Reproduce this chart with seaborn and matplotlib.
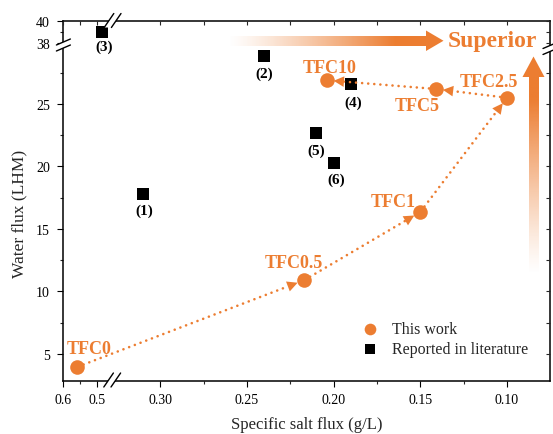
import numpy as np
import pandas as pd
import matplotlib
matplotlib.use("Agg")
import matplotlib.pyplot as plt
from matplotlib.patches import Polygon
import seaborn as sns

# ---------------- data ----------------
tfc_labels = ["TFC0", "TFC0.5", "TFC1", "TFC2.5", "TFC5", "TFC10"]
tfc_salt = [0.559, 0.217, 0.150, 0.100, 0.141, 0.204]
tfc_water = [3.96, 10.9, 16.36, 25.5, 26.2, 26.9]

lit_labels = ["(1)", "(2)", "(3)", "(4)", "(5)", "(6)"]
lit_salt = [0.310, 0.240, 0.485, 0.190, 0.210, 0.200]
lit_water = [17.8, 28.84, 39.0, 26.6, 22.66, 20.26]

x_major = [0.6, 0.5, 0.30, 0.25, 0.20, 0.15, 0.10]
x_major_labels = ["0.6", "0.5", "0.30", "0.25", "0.20", "0.15", "0.10"]
x_minor = [0.55, 0.275, 0.225, 0.175, 0.125]
y_major = [5, 10, 15, 20, 25, 38, 40]
y_major_labels = ["5", "10", "15", "20", "25", "38", "40"]
y_minor = [7.5, 12.5, 17.5, 22.5, 27.5, 39]

ORANGE = "#EC7D31"

sns.set_style("ticks")
plt.rcParams["font.family"] = ["Liberation Serif", "DejaVu Serif"]

# ---------------- broken-axis scales ----------------
XB_LO, XB_HI = 0.3277, 0.454      # gap in x
X_MIN, X_MAX = 0.0752, 0.6
KX_R, KX_L = 1734.0, 334.0
YB_LO, YB_HI = 29.72, 37.8        # gap in y
Y_MIN, Y_MAX = 2.84, 40.0
KY_L, KY_U = 12.5, 10.9
EPS = 1e-3


def fx(x):
    x = np.asarray(x, float)
    a = (x - XB_LO) * KX_R
    b = EPS + (x - XB_HI) * KX_L
    g = EPS * (x - XB_LO) / (XB_HI - XB_LO)
    return np.where(x <= XB_LO, a, np.where(x >= XB_HI, b, g))


def fx_inv(u):
    u = np.asarray(u, float)
    a = XB_LO + u / KX_R
    b = XB_HI + (u - EPS) / KX_L
    g = XB_LO + u / EPS * (XB_HI - XB_LO)
    return np.where(u <= 0, a, np.where(u >= EPS, b, g))


def fy(y):
    y = np.asarray(y, float)
    a = (y - YB_LO) * KY_L
    b = EPS + (y - YB_HI) * KY_U
    g = EPS * (y - YB_LO) / (YB_HI - YB_LO)
    return np.where(y <= YB_LO, a, np.where(y >= YB_HI, b, g))


def fy_inv(u):
    u = np.asarray(u, float)
    a = YB_LO + u / KY_L
    b = YB_HI + (u - EPS) / KY_U
    g = YB_LO + u / EPS * (YB_HI - YB_LO)
    return np.where(u <= 0, a, np.where(u >= EPS, b, g))


W, H = 553, 435
fig = plt.figure(figsize=(W / 100, H / 100), dpi=100)
L_PX, R_PX, T_PX, B_PX = 63.4, 550.0, 22.0, 382.0
ax = fig.add_axes([L_PX / W, 1 - B_PX / H, (R_PX - L_PX) / W, (B_PX - T_PX) / H])


def setup_scales(a):
    a.set_xscale("function", functions=(fx, fx_inv))
    a.set_yscale("function", functions=(fy, fy_inv))
    a.set_xlim(X_MAX, X_MIN)
    a.set_ylim(Y_MIN, Y_MAX)


setup_scales(ax)

df_t = pd.DataFrame({"salt": tfc_salt, "water": tfc_water, "group": "This work"})
df_l = pd.DataFrame({"salt": lit_salt, "water": lit_water, "group": "Reported in literature"})

sns.scatterplot(data=df_l, x="salt", y="water", marker="s", s=70, color="black",
                linewidth=0, ax=ax, label="Reported in literature", zorder=3)
sns.scatterplot(data=df_t, x="salt", y="water", marker="o", s=110, color=ORANGE,
                linewidth=0, ax=ax, label="This work", zorder=6)
setup_scales(ax)

# ---------------- arrows between TFC points ----------------
for i in range(len(tfc_salt) - 1):
    src = (tfc_salt[i], tfc_water[i])
    dst = (tfc_salt[i + 1], tfc_water[i + 1])
    ax.annotate("", xy=dst, xytext=src,
                arrowprops=dict(arrowstyle="-", linestyle=(0, (0.01, 2.3)), lw=1.9,
                                capstyle="round", color=ORANGE, shrinkA=5, shrinkB=12),
                zorder=4)
    ps = ax.transData.transform(src)
    pd_ = ax.transData.transform(dst)
    v = ps - pd_
    v = v / np.hypot(*v)
    ax.annotate("", xy=dst, xytext=(v[0] * 14, v[1] * 14), textcoords="offset points",
                arrowprops=dict(arrowstyle="-|>,head_length=0.75,head_width=0.38",
                                lw=0, color=ORANGE, shrinkA=0, shrinkB=5,
                                mutation_scale=10),
                zorder=4)

# ---------------- point labels ----------------
lit_off = [(0.7, -11.5), (0, -12.2), (1.4, -10), (1.4, -13), (0, -12.2), (2.2, -11.5)]
for lab, xs, yw, off in zip(lit_labels, lit_salt, lit_water, lit_off):
    ax.annotate(lab, xy=(xs, yw), xytext=off, textcoords="offset points",
                ha="center", va="center", fontsize=11, fontweight="bold",
                color="black", zorder=7)

tfc_off = [(8.6, 13), (-7.2, 13), (-19.4, 7.2), (-13, 11.5), (-13.7, -12), (1.8, 9.4)]
for lab, xs, yw, off in zip(tfc_labels, tfc_salt, tfc_water, tfc_off):
    ax.annotate(lab, xy=(xs, yw), xytext=off, textcoords="offset points",
                ha="center", va="center", fontsize=13, fontweight="bold",
                color=ORANGE, zorder=7)

# ---------------- ticks / labels ----------------
ax.set_xticks(x_major)
ax.set_xticklabels(x_major_labels)
ax.set_xticks(x_minor, minor=True)
ax.set_yticks(y_major)
ax.set_yticklabels(y_major_labels)
ax.set_yticks(y_minor, minor=True)
ax.tick_params(axis="both", which="major", direction="out", length=4.3, width=0.8,
               labelsize=10, color="black", labelcolor="black")
ax.tick_params(axis="both", which="minor", direction="out", length=2.3, width=0.8)
ax.tick_params(axis="x", pad=4.5)
ax.tick_params(axis="y", pad=5.5)
ax.tick_params(top=False, right=False)
for s in ax.spines.values():
    s.set_linewidth(1.1)
    s.set_color("black")
    s.set_visible(True)

ax.set_xlabel("Specific salt flux (g/L)", fontsize=12)
ax.set_ylabel("Water flux (LHM)", fontsize=12.5)
ax.xaxis.set_label_coords(0.5, -0.098)
ax.yaxis.set_label_coords(-0.073, 0.4667)

h, l = ax.get_legend_handles_labels()
order = [l.index("This work"), l.index("Reported in literature")]
leg = ax.legend([h[k] for k in order], [l[k] for k in order],
                loc="upper left", bbox_to_anchor=(364 / W, 1 - 322 / H),
                bbox_transform=fig.transFigure, frameon=False, fontsize=11.4,
                handlelength=0.8, handletextpad=0.95, labelspacing=0.28,
                borderpad=0, borderaxespad=0, markerscale=0.8)

# mirrored inward ticks on top / right
axt = ax.twiny()
axt.set_xscale("function", functions=(fx, fx_inv))
axt.set_xlim(X_MAX, X_MIN)
axt.set_xticks(x_major)
axt.set_xticks(x_minor, minor=True)
axt.tick_params(axis="x", which="both", direction="in", length=3.2, width=0.8,
                labeltop=False, labelbottom=False, top=True, bottom=False)
axr = ax.twinx()
axr.set_yscale("function", functions=(fy, fy_inv))
axr.set_ylim(Y_MIN, Y_MAX)
axr.set_yticks(y_major)
axr.set_yticks(y_minor, minor=True)
axr.tick_params(axis="y", which="both", direction="in", length=3.2, width=0.8,
                labelright=False, labelleft=False, right=True, left=False)
for a in (axt, axr):
    for s in a.spines.values():
        s.set_visible(False)

# ---------------- overlay: breaks, gradient arrows, "Superior" ----------------
ov = fig.add_axes([0, 0, 1, 1], zorder=20)
ov.set_xlim(0, W)
ov.set_ylim(H, 0)
ov.axis("off")


def brk(cx, cy, hx, hy, ox, oy):
    p1a = (cx - ox - hx, cy - oy - hy); p1b = (cx - ox + hx, cy - oy + hy)
    p2a = (cx + ox - hx, cy + oy - hy); p2b = (cx + ox + hx, cy + oy + hy)
    ov.add_patch(Polygon([p1a, p1b, p2b, p2a], closed=True, facecolor="white",
                         edgecolor="none", zorder=1))
    ov.plot([p1a[0], p1b[0]], [p1a[1], p1b[1]], color="black", lw=1.0, zorder=2)
    ov.plot([p2a[0], p2b[0]], [p2a[1], p2b[1]], color="black", lw=1.0, zorder=2)


brk(112.2, B_PX - 1, 4.8, -7.0, 3.6, 0)     # bottom
brk(112.6, T_PX - 0.5, 4.8, -7.0, 3.6, 0)   # top
brk(L_PX, 46.0, 7.0, -3.0, 0, 3.0)          # left
brk(R_PX, 49.5, 7.0, -3.0, 0, 3.0)          # right

rgb = np.array(matplotlib.colors.to_rgb(ORANGE))
# horizontal arrow
n = 300
xs_ = np.linspace(228, 428, n)
alpha_h = np.clip((xs_ - 228) / (395 - 228), 0, 1) ** 1.2
img_h = np.zeros((1, n, 4)); img_h[..., :3] = rgb; img_h[0, :, 3] = alpha_h
ov.imshow(img_h, extent=(228, 428, 46.5, 37.0), aspect="auto",
          interpolation="bilinear", zorder=3)
ov.add_patch(Polygon([(426, 31.5), (443.5, 41.75), (426, 52)], closed=True,
                     facecolor=ORANGE, edgecolor="none", zorder=3))
# vertical arrow
ys_ = np.linspace(77, 275, n)
alpha_v = np.clip((275 - ys_) / (275 - 100), 0, 1) ** 1.2
img_v = np.zeros((n, 1, 4)); img_v[..., :3] = rgb; img_v[:, 0, 3] = alpha_v
ov.imshow(img_v, extent=(528.5, 538.5, 275, 77), aspect="auto",
          interpolation="bilinear", zorder=3)
ov.add_patch(Polygon([(522.5, 78), (533.5, 57.5), (544.5, 78)], closed=True,
                     facecolor=ORANGE, edgecolor="none", zorder=3))
ov.set_xlim(0, W)
ov.set_ylim(H, 0)
ov.text(492, 41.5, "Superior", ha="center", va="center", fontsize=17,
        fontweight="bold", color=ORANGE, zorder=4)

fig.savefig("out.png", dpi=100)
